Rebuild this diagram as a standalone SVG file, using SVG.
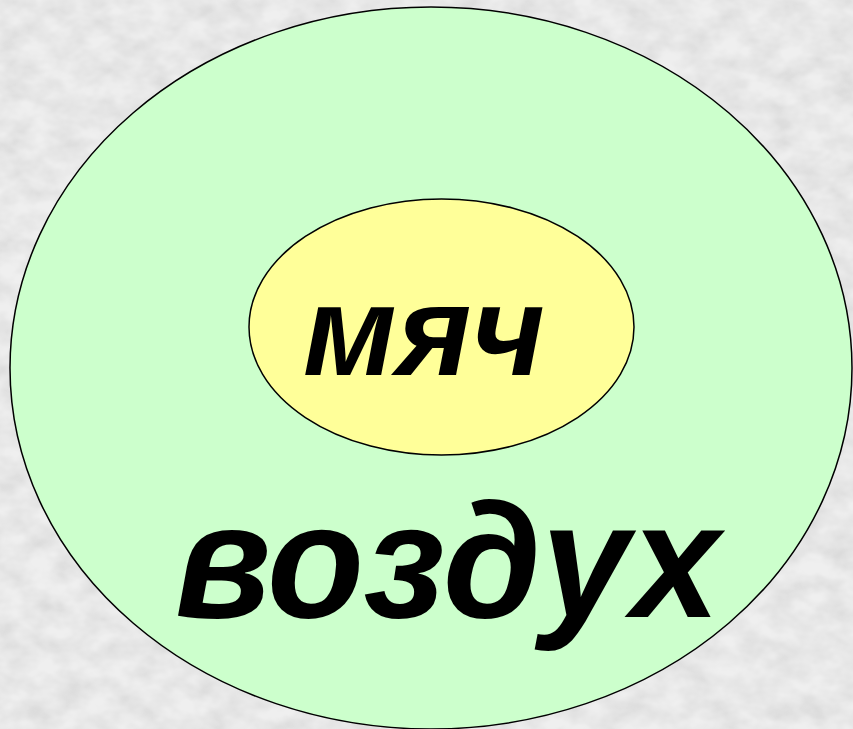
<svg xmlns="http://www.w3.org/2000/svg" width="853" height="729" viewBox="0 0 853 729">
  <defs>
    <filter id="marble" x="0" y="0" width="100%" height="100%">
      <feTurbulence type="fractalNoise" baseFrequency="0.035 0.05" numOctaves="3" seed="7" result="n"/>
      <feColorMatrix in="n" type="matrix" values="0 0 0 0 0  0 0 0 0 0  0 0 0 0 0  0.9 0 0 0 -0.25" result="a"/>
      <feFlood flood-color="#c8c8c8" result="f"/>
      <feComposite in="f" in2="a" operator="in" result="spots"/>
      <feFlood flood-color="#efefef" result="bg"/>
      <feMerge><feMergeNode in="bg"/><feMergeNode in="spots"/></feMerge>
    </filter>
    <style>
      .ell { stroke: #000; stroke-width: 1.5; }
      .lbl { font-family: "Liberation Sans", Arial, sans-serif; font-weight: bold; font-style: italic; fill: #000; }
    </style>
  </defs>
  <rect x="0" y="0" width="853" height="729" fill="#ececec" filter="url(#marble)"/>
  <g id="air">
    <ellipse class="ell" cx="431" cy="368" rx="421" ry="361" fill="#ccffcc"/>
    <text class="lbl" x="175" y="617" font-size="164" textLength="545" lengthAdjust="spacingAndGlyphs">воздух</text>
  </g>
  <g id="ball">
    <ellipse class="ell" cx="441.5" cy="327" rx="192.5" ry="128" fill="#ffff99"/>
    <text class="lbl" x="303" y="375" font-size="128" textLength="242" lengthAdjust="spacingAndGlyphs">мяч</text>
  </g>
</svg>
